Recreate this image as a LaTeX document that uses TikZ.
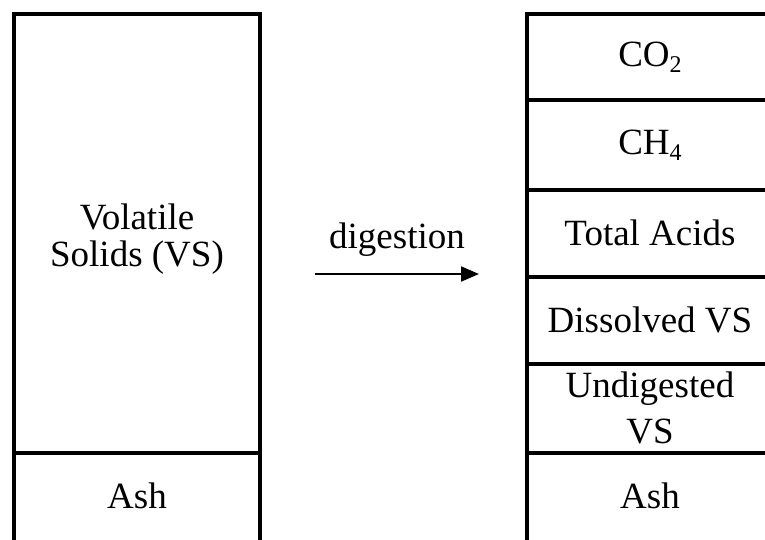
\documentclass[tikz,border=0pt]{standalone}
\usepackage{fontspec}
\setmainfont{Liberation Serif}
\usetikzlibrary{arrows.meta}
\newcommand{\lowsub}[1]{\raisebox{-6pt}{\fontsize{24}{24}\selectfont #1}}
\begin{document}
\begin{tikzpicture}[x=1pt,y=-1pt,
  frame/.style={line width=4pt},
  lbl/.style={font=\fontsize{37}{46}\selectfont, align=center, inner sep=0pt}]
\useasboundingbox (0,0) rectangle (765,539);
% left column
\draw[frame] (14,545) -- (14,14) -- (260,14) -- (260,545);
\draw[frame] (14,453) -- (260,453);
% right column
\draw[frame] (527,545) -- (527,14) -- (775,14);
\foreach \yy in {100,190,277,364,453} \draw[frame] (527,\yy) -- (775,\yy);
% labels
\node[lbl, font=\fontsize{37}{37}\selectfont] (vs) at (137,239) {Volatile\\Solids (VS)};
\node[lbl] (ashL) at (137,496) {Ash};
\node[lbl] (co2) at (650,57) {CO\lowsub{2}};
\node[lbl] (ch4) at (650,145) {CH\lowsub{4}};
\node[lbl] (acids) at (650,233) {Total Acids};
\node[lbl] (dvs) at (650,320) {Dissolved VS};
\node[lbl] (uvs) at (650,408) {Undigested\\VS};
\node[lbl] (ashR) at (650,496) {Ash};
% arrow
\coordinate (a1) at (315,274);
\coordinate (a2) at (479,274);
\draw[line width=2pt,-{Triangle[length=18pt,width=15pt]}] (a1) -- (a2);
\node[lbl] (dig) at (397,240) {digestion};
\end{tikzpicture}
\end{document}
